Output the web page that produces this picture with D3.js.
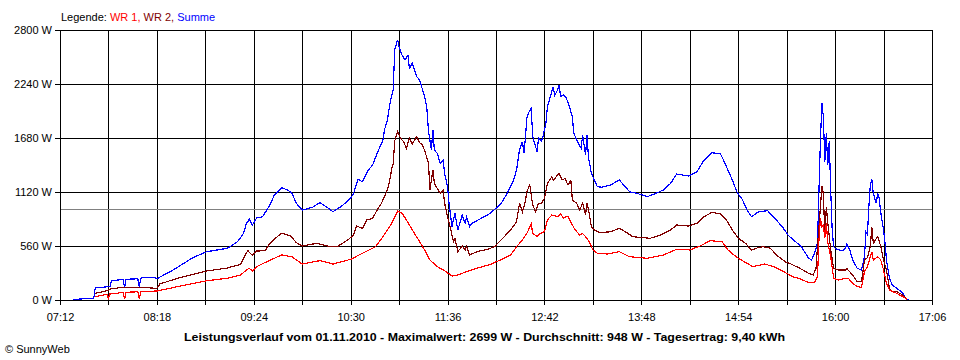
<!DOCTYPE html>
<html><head><meta charset="utf-8">
<script src="https://cdn.jsdelivr.net/npm/d3@7"></script>
<style>
html,body{margin:0;padding:0;background:#fff;}
svg{display:block;font-family:"Liberation Sans",Arial,sans-serif;font-size:11px;}
</style></head>
<body><svg id="chart" width="960" height="360"></svg>
<script>
// ---- data ----
const timeStart = "07:12", timeEnd = "17:06";
const xTickLabels = ["07:12","08:18","09:24","10:30","11:36","12:42","13:48","14:54","16:00","17:06"];
const yTicks = [0,560,1120,1680,2240,2800];
const average = 948;
const legendItems = ["WR 1","WR 2","Summe"];
const titleText = "Leistungsverlauf vom 01.11.2010 - Maximalwert: 2699 W - Durchschnitt: 948 W - Tagesertrag: 9,40 kWh";

const wr1 = [["07:36",35],["07:44",60],["07:45",15],["07:46",62],["07:55",78],["07:56",10],["07:57",80],["08:05",85],["08:06",10],["08:07",88],
["08:18",93],["08:32",138],["08:52",200],["09:06",225],["09:15",259],["09:19",311],["09:21",329],["09:23",300],["09:26",346],["09:33",398],
["09:43",467],["09:50",449],["09:57",373],["10:09",408],["10:18",373],["10:30",422],["10:38",484],["10:47",553],["10:52",657],["10:58",795],
["11:02",923],["11:05",900],["11:08",830],["11:12",726],["11:17",605],["11:21",501],["11:24",415],["11:29",346],["11:34",304],["11:39",249],
["11:42",255],["11:49",294],["11:56",329],["12:05",368],["12:12",415],["12:19",467],["12:23",553],["12:27",622],["12:30",691],["12:33",788],
["12:34",691],["12:37",657],["12:39",690],["12:42",708],["12:44",830],["12:47",881],["12:51",864],["12:53",892],["12:55",850],["12:58",870],
["13:01",778],["13:03",726],["13:06",674],["13:08",690],["13:11",640],["13:13",588],["13:15",519],["13:18",484],["13:25",477],["13:33",501],
["13:40",449],["13:52",432],["14:03",467],["14:12",525],["14:21",519],["14:28",560],["14:35",615],["14:43",605],["14:47",519],["14:53",443],
["15:00",380],["15:04",346],["15:12",373],["15:18",346],["15:25",294],["15:31",242],["15:36",220],["15:42",180],["15:46",180],["15:48",242],
["15:49",622],["15:50",847],["15:51",760],["15:52",780],["15:53",640],["15:54",795],["15:55",600],["15:57",449],["15:59",225],["16:02",207],
["16:07",225],["16:09",225],["16:12",173],["16:15",138],["16:18",132],["16:20",294],["16:22",346],["16:25",501],["16:26",415],["16:29",449],
["16:31",420],["16:33",311],["16:35",173],["16:37",104],["16:42",69],["16:46",35],["16:49",7]];

const wr2 = [["07:36",69],["07:45",100],["07:46",114],["07:55",132],["08:06",132],["08:18",121],["08:20",166],["08:32",225],["08:43",266],["08:52",301],
["09:06",332],["09:15",370],["09:19",491],["09:20",511],["09:23",463],["09:26",508],["09:28",508],["09:32",519],["09:35",588],["09:40",657],
["09:43",691],["09:49",667],["09:53",594],["09:57",560],["10:07",588],["10:16",553],["10:21",555],["10:28",622],["10:32",674],["10:34",767],
["10:38",743],["10:41",830],["10:45",847],["10:48",933],["10:51",1003],["10:55",1141],["10:57",1270],["10:58",1366],["10:59",1417],["11:00",1650],
["11:02",1746],["11:04",1677],["11:06",1642],["11:08",1573],["11:10",1680],["11:12",1620],["11:15",1694],["11:17",1630],["11:19",1607],["11:21",1521],
["11:23",1417],["11:24",1141],["11:26",1348],["11:27",1210],["11:29",1158],["11:31",1106],["11:33",1140],["11:34",1003],["11:36",864],["11:38",743],
["11:40",605],["11:41",640],["11:43",501],["11:46",560],["11:48",520],["11:49",560],["11:51",467],["11:56",501],["12:03",525],["12:08",553],
["12:12",615],["12:19",726],["12:23",812],["12:25",1003],["12:27",916],["12:29",1020],["12:30",1123],["12:32",1193],["12:34",985],["12:36",916],
["12:38",1003],["12:40",1003],["12:42",1055],["12:44",1210],["12:47",1279],["12:48",1240],["12:51",1296],["12:52",1314],["12:54",1244],["12:56",1260],
["12:58",1193],["13:00",1240],["13:01",1037],["13:04",1003],["13:06",933],["13:08",1003],["13:10",881],["13:11",1003],["13:12",940],["13:14",760],
["13:16",726],["13:20",698],["13:27",708],["13:33",743],["13:38",700],["13:42",657],["13:54",640],["14:01",674],["14:08",726],["14:12",778],
["14:20",767],["14:26",795],["14:30",857],["14:36",909],["14:42",892],["14:46",830],["14:50",726],["14:54",640],["14:59",588],["15:03",519],
["15:07",540],["15:11",553],["15:16",536],["15:20",467],["15:27",387],["15:29",380],["15:36",329],["15:42",277],["15:45",259],["15:47",329],
["15:48",553],["15:50",968],["15:51",1182],["15:52",1100],["15:53",657],["15:54",968],["15:55",800],["15:57",519],["15:59",329],["16:02",311],
["16:07",311],["16:08",325],["16:12",259],["16:15",190],["16:18",190],["16:20",415],["16:22",440],["16:24",553],["16:25",760],["16:26",588],
["16:29",657],["16:31",560],["16:33",415],["16:35",311],["16:37",121],["16:39",86],["16:42",86],["16:46",52],["16:49",0]];

const summe = [["07:21",5],["07:35",20],["07:36",125],["07:46",140],["07:47",197],["07:55",215],["07:56",130],["07:57",215],["08:05",220],["08:06",135],
["08:07",225],["08:08",231],["08:17",231],["08:18",220],["08:29",311],["08:43",443],["08:52",501],["09:06",536],["09:13",605],["09:17",691],
["09:19",795],["09:21",837],["09:23",778],["09:26",850],["09:30",864],["09:35",985],["09:38",1089],["09:43",1165],["09:47",1141],["09:50",1106],
["09:53",1003],["09:57",933],["10:04",961],["10:09",1009],["10:14",961],["10:18",916],["10:24",975],["10:30",1055],["10:32",1106],["10:35",1252],
["10:38",1227],["10:42",1348],["10:45",1400],["10:48",1521],["10:50",1590],["10:52",1659],["10:53",1763],["10:55",1867],["10:57",2057],["10:59",2178],
["11:00",2593],["11:02",2699],["11:03",2620],["11:05",2541],["11:07",2489],["11:09",2540],["11:10",2403],["11:12",2455],["11:15",2316],["11:17",2282],
["11:19",2178],["11:21",2074],["11:22",1970],["11:23",1750],["11:25",1556],["11:26",1763],["11:27",1556],["11:29",1521],["11:31",1417],["11:33",1450],
["11:34",1314],["11:36",1175],["11:37",1003],["11:39",760],["11:41",899],["11:43",726],["11:46",880],["11:48",795],["11:49",860],["11:51",760],
["11:53",800],["11:56",823],["12:03",881],["12:05",900],["12:12",990],["12:16",1089],["12:21",1244],["12:23",1348],["12:25",1556],["12:27",1642],
["12:28",1521],["12:29",1677],["12:30",1884],["12:31",1936],["12:33",1988],["12:34",1694],["12:36",1590],["12:37",1538],["12:38",1677],["12:40",1650],
["12:41",1694],["12:43",1832],["12:44",2005],["12:46",2108],["12:48",2212],["12:49",2120],["12:51",2180],["12:52",2230],["12:53",2110],["12:55",2130],
["12:57",2091],["12:59",2005],["13:01",1901],["13:02",1728],["13:04",1659],["13:07",1573],["13:08",1711],["13:10",1504],["13:11",1711],["13:12",1480],
["13:14",1314],["13:18",1175],["13:21",1170],["13:27",1193],["13:33",1244],["13:37",1175],["13:40",1123],["13:45",1106],["13:52",1072],["13:57",1099],
["14:03",1141],["14:08",1210],["14:12",1306],["14:20",1286],["14:26",1331],["14:30",1434],["14:36",1528],["14:42",1514],["14:45",1417],["14:50",1244],
["14:53",1123],["14:57",1037],["15:00",933],["15:03",864],["15:08",916],["15:14",926],["15:18",864],["15:24",760],["15:28",674],["15:29",657],
["15:33",605],["15:37",553],["15:42",432],["15:44",415],["15:46",484],["15:48",588],["15:49",1141],["15:50",1659],["15:51",2040],["15:52",1900],
["15:53",1434],["15:54",1728],["15:55",1400],["15:56",1650],["15:57",1141],["15:58",726],["15:59",553],["16:01",525],["16:05",511],["16:07",540],
["16:08",581],["16:10",520],["16:12",415],["16:15",329],["16:18",311],["16:20",449],["16:21",708],["16:22",680],["16:23",968],["16:24",1193],
["16:25",1252],["16:26",1106],["16:28",1003],["16:29",1106],["16:30",1060],["16:31",916],["16:33",726],["16:34",588],["16:35",415],["16:37",225],
["16:39",156],["16:42",121],["16:46",76],["16:48",17],["16:50",0]];

// ---- chart ----
const parse = s => { const p = s.split(":").map(Number); return p[0]*60 + p[1]; };
const svg = d3.select("#chart");
const L = 60, R = 932, T = 30, B = 300;
const x = d3.scaleLinear().domain([parse(timeStart), parse(timeEnd)]).range([L, R]);
const y = d3.scaleLinear().domain([0, 2800]).range([B, T]);

svg.append("rect").attr("width",960).attr("height",360).attr("fill","#fff");

const grid = svg.append("g").attr("shape-rendering","crispEdges").attr("stroke","#000").attr("stroke-width",1);
const step = (parse(xTickLabels[1]) - parse(xTickLabels[0])) / 2;
const vgrid = d3.range(parse(timeStart), parse(timeEnd) + 1, step);
grid.selectAll("line.v").data(vgrid).enter().append("line")
  .attr("x1", d => Math.round(x(d)) + 0.5).attr("x2", d => Math.round(x(d)) + 0.5)
  .attr("y1", T).attr("y2", B + 5);
grid.selectAll("line.h").data(yTicks).enter().append("line")
  .attr("y1", d => Math.round(y(d)) + 0.5).attr("y2", d => Math.round(y(d)) + 0.5)
  .attr("x1", L - 5).attr("x2", R + 1);

svg.append("line").attr("shape-rendering","crispEdges")
  .attr("x1", L + 1).attr("x2", R)
  .attr("y1", Math.round(y(average)) + 0.5).attr("y2", Math.round(y(average)) + 0.5)
  .attr("stroke","#808080");

svg.selectAll("text.yl").data(yTicks).enter().append("text")
  .attr("x", 52).attr("y", d => Math.round(y(d)) + 4).attr("text-anchor","end")
  .text(d => d + " W");
svg.selectAll("text.xl").data(xTickLabels).enter().append("text")
  .attr("x", d => x(parse(d)) + 0.5).attr("y", 321).attr("text-anchor","middle")
  .text(d => d);

const line = d3.line().x(d => x(parse(d[0]))).y(d => y(d[1]));
const series = [[summe,"#0000ff"],[wr2,"#800000"],[wr1,"#ff0000"]];
series.forEach(([data,color]) => {
  svg.append("path").datum(data).attr("d", line)
    .attr("fill","none").attr("stroke", color).attr("stroke-width", 1.2)
    .attr("shape-rendering","crispEdges");
});

const colors = ["#ff0000","#800000","#0000ff"];
const leg = svg.append("text").attr("x", 61).attr("y", 21);
leg.append("tspan").attr("fill","#000").text("Legende: ");
legendItems.forEach((t,i) => {
  leg.append("tspan").attr("fill", colors[i]).text(t + (i < legendItems.length - 1 ? ", " : ""));
});

svg.append("text").attr("x", 184).attr("y", 341)
  .attr("font-weight","bold").attr("textLength", 601).attr("lengthAdjust","spacingAndGlyphs")
  .text(titleText);
svg.append("text").attr("x", 5).attr("y", 353).text("\u00a9 SunnyWeb");
</script></body></html>
